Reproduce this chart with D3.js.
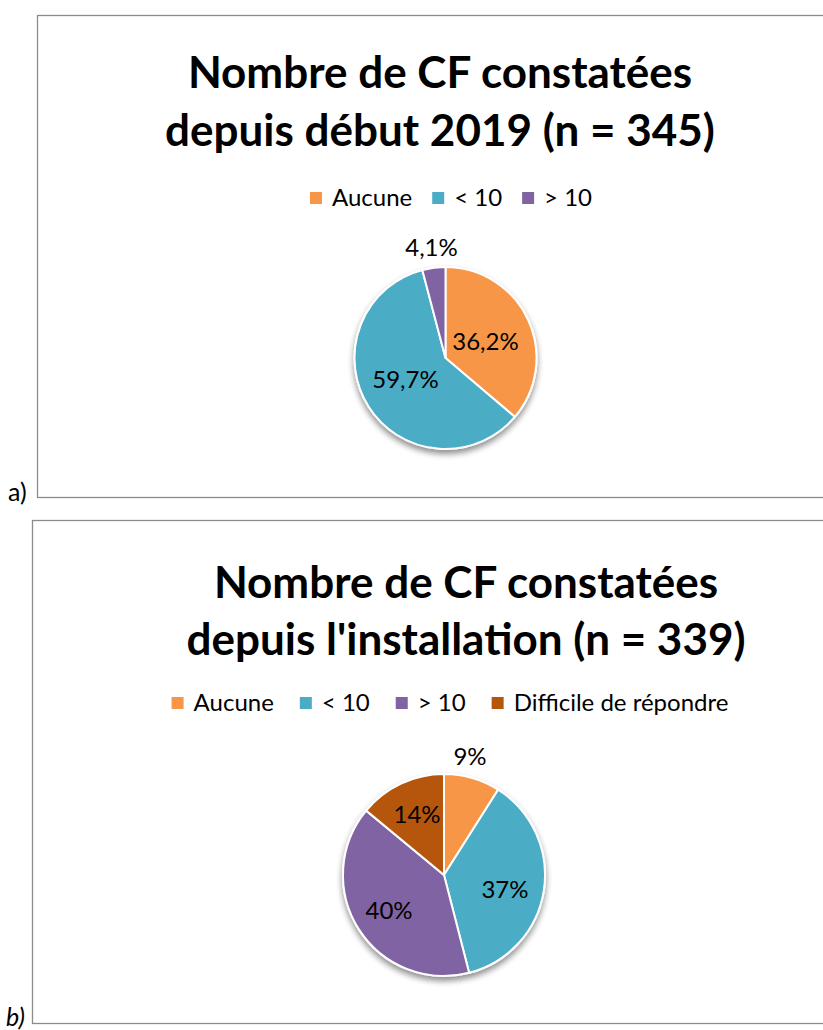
<!DOCTYPE html>
<html><head><meta charset="utf-8">
<script src="https://cdn.jsdelivr.net/npm/d3@7"></script>
<style>body{margin:0;background:#fff}svg{display:block}text{font-family:Lato,"Open Sans",sans-serif}</style>
</head><body>
<svg id="c" width="823" height="1030"></svg>
<script>
const categoriesA = ["Aucune", "< 10", "> 10"];
const valuesA = [36.2, 59.7, 4.1];
const labelsA = ["36,2%", "59,7%", "4,1%"];
const titleA = ["Nombre de CF constatées", "depuis début 2019 (n = 345)"];

const categoriesB = ["Aucune", "< 10", "> 10", "Difficile de répondre"];
const valuesB = [9, 37, 40, 14];
const labelsB = ["9%", "37%", "40%", "14%"];
const titleB = ["Nombre de CF constatées", "depuis l'installation (n = 339)"];

const colors = ["#F79646", "#4BACC6", "#8064A2", "#B65708"];

const svg = d3.select("#c");
const defs = svg.append("defs");
const f = defs.append("filter").attr("id","sh").attr("x","-20%").attr("y","-20%").attr("width","140%").attr("height","140%");
f.append("feGaussianBlur").attr("in","SourceAlpha").attr("stdDeviation",3);
f.append("feOffset").attr("dx",0).attr("dy",4).attr("result","b");
f.append("feComponentTransfer").append("feFuncA").attr("type","linear").attr("slope",0.45);
const m = f.append("feMerge"); m.append("feMergeNode"); m.append("feMergeNode").attr("in","SourceGraphic");

function panel(cfg){
  const g = svg.append("g");
  g.append("rect").attr("x",cfg.box[0]+0.5).attr("y",cfg.box[1]+0.5).attr("width",cfg.box[2]).attr("height",cfg.box[3])
    .attr("fill","#fff").attr("stroke","#8c8c8c").attr("stroke-width",1.3);
  cfg.title.forEach((t,i)=>{
    g.append("text").attr("x",cfg.tx).attr("y",cfg.ty[i]).attr("text-anchor","middle")
      .attr("font-size",44).attr("font-weight","bold").attr("fill","#000").text(t);
  });
  // legend
  const lg = g.append("g");
  let x = 0;
  const gap = cfg.gap;
  cfg.cats.forEach((c,i)=>{
    const it = lg.append("g");
    it.append("rect").attr("x",0).attr("y",-14).attr("width",12).attr("height",12).attr("fill",colors[i]);
    const tx = it.append("text").attr("x",22).attr("y",0).attr("font-size",24).attr("fill","#000").text(c);
    it.attr("transform",`translate(${x},0)`);
    x += 22 + tx.node().getComputedTextLength() + gap;
  });
  const total = x - gap;
  lg.attr("transform",`translate(${cfg.lx - total/2},${cfg.ly})`);

  const pie = d3.pie().sort(null).value(d=>d);
  const arcs = pie(cfg.vals);
  const arc = d3.arc().innerRadius(0).outerRadius(cfg.r);
  const pg = g.append("g").attr("transform",`translate(${cfg.cx},${cfg.cy})`);
  pg.append("g").attr("filter","url(#sh)").selectAll("path").data(arcs).join("path")
    .attr("d",arc).attr("fill",(d,i)=>colors[i]).attr("stroke","#fff").attr("stroke-width",2);
  pg.selectAll("text.l").data(arcs).join("text").attr("class","l")
    .attr("x",(d,i)=>cfg.lab[i][0]).attr("y",(d,i)=>cfg.lab[i][1])
    .attr("text-anchor","middle").attr("font-size",24).attr("fill","#000")
    .text((d,i)=>cfg.labels[i]);
}

panel({box:[37,15,800,482], title:titleA, tx:440, ty:[88,146], cats:categoriesA, lx:451, ly:206, gap:20,
  vals:valuesA, labels:labelsA, cx:445.5, cy:358, r:91,
  lab:[[40,-8],[-40,30],[-14,-102]]});
panel({box:[32,520,800,503], title:titleB, tx:466, ty:[598,655], cats:categoriesB, lx:450, ly:711, gap:26,
  vals:valuesB, labels:labelsB, cx:444, cy:875, r:101,
  lab:[[26,-110],[61,23],[-55,44],[-27,-52]]});

svg.append("text").attr("x",8).attr("y",501).attr("font-size",25).text("a)");
svg.append("text").attr("x",6).attr("y",1026).attr("font-size",25).attr("font-style","italic").text("b)");
</script>
</body></html>
